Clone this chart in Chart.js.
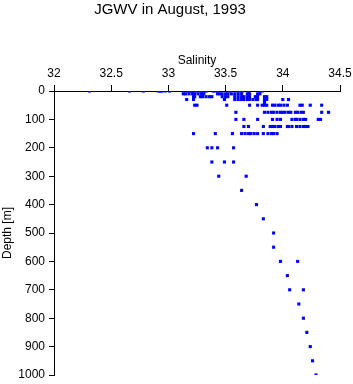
<!DOCTYPE html>
<html>
<head>
<meta charset="utf-8">
<script src="https://cdn.jsdelivr.net/npm/chart.js@4"></script>
<style>
  html, body { margin: 0; padding: 0; background: #fff; }
  #wrap { width: 353px; height: 384px; }
</style>
</head>
<body>
<div id="wrap"><canvas id="myChart"></canvas></div>
<script>
// CTD casts, JGWV August 1993 - salinity read at each sampled depth
const depths = [0, 10, 20, 30, 40, 50, 75, 100, 125, 150, 200, 250, 300, 350,
  400, 450, 500, 550, 600, 650, 700, 750, 800, 850, 900, 950, 1000];

const salinityByDepth = [
  [32.31, 32.66, 32.78, 32.91, 32.93, 32.94, 32.97, 33.01, 33.13, 33.17, 33.19, 33.21, 33.22,
    33.25, 33.28, 33.29, 33.31, 33.33, 33.39, 33.41, 33.43, 33.54, 33.60, 33.63, 33.65, 33.70, 33.80, 33.82],
  [33.13, 33.15, 33.18, 33.21, 33.23, 33.26, 33.29, 33.31, 33.43, 33.45, 33.47, 33.50, 33.52,
    33.55, 33.58, 33.61, 33.64, 33.69, 33.71, 33.78, 33.80],
  [33.22, 33.23, 33.28, 33.30, 33.33, 33.36, 33.38, 33.47, 33.50, 33.52, 33.58, 33.61, 33.64,
    33.66, 33.69, 33.71, 33.76, 33.78, 33.84, 33.86],
  [33.16, 33.22, 33.49, 33.58, 33.61, 33.64, 33.66, 33.69, 33.71, 33.74, 33.77, 33.78, 33.84,
    33.86, 34.00, 34.05],
  [33.84],
  [33.23, 33.25, 33.51, 33.71, 33.78, 33.82, 33.84, 33.86, 33.91, 33.93, 33.96, 33.98, 34.01,
    34.04, 34.15, 34.17, 34.24, 34.34],
  [33.59, 33.84, 33.87, 33.90, 33.92, 33.95, 33.98, 34.00, 34.02, 34.05, 34.07, 34.11, 34.13,
    34.16, 34.18, 34.34, 34.40],
  [33.59, 33.66, 33.78, 33.91, 33.95, 33.98, 34.08, 34.11, 34.12, 34.15, 34.18, 34.20, 34.31, 34.33],
  [33.66, 33.70, 33.83, 33.89, 33.91, 33.93, 33.96, 33.98, 34.04, 34.05, 34.08, 34.12, 34.15,
    34.18, 34.20, 34.22],
  [33.22, 33.41, 33.56, 33.64, 33.67, 33.70, 33.72, 33.75, 33.78, 33.83, 33.87, 33.90, 33.92, 33.95],
  [33.34, 33.38, 33.43, 33.57],
  [33.38, 33.49, 33.57],
  [33.44, 33.68],
  [33.64],
  [33.77],
  [33.83],
  [33.92],
  [33.92],
  [33.98, 34.13],
  [34.04],
  [34.06, 34.18],
  [34.14],
  [34.18],
  [34.21],
  [34.24],
  [34.26],
  [34.29]
];

const salinityTicks = [32, 32.5, 33, 33.5, 34, 34.5];
const depthTicks = [0, 100, 200, 300, 400, 500, 600, 700, 800, 900, 1000];

function makeChart() {
  const ctx = document.getElementById("myChart").getContext("2d");

  let points = [];
  depths.forEach((d, i) => {
    salinityByDepth[i].forEach((s) => {
      points.push({ x: s, y: d });
    });
  });

  Chart.defaults.font.family = "'Liberation Sans', Arial, sans-serif";
  Chart.defaults.color = "#000";

  // drop the label overhang padding so layout.padding sets the plot edges
  const noOverhang = (scale) => {
    scale.paddingLeft = 0;
    scale.paddingRight = 0;
    scale.paddingTop = 0;
    scale.paddingBottom = 0;
  };

  const myChart = new Chart(ctx, {
    type: "scatter",
    data: {
      datasets: [
        {
          label: "Salinity",
          data: points,
          pointStyle: "rect",
          pointRadius: 2.2,
          pointHoverRadius: 2.2,
          borderWidth: 0,
          backgroundColor: "#0000ff",
          borderColor: "#0000ff",
        },
      ],
    },
    options: {
      responsive: true,
      maintainAspectRatio: false,
      animation: false,
      layout: {
        padding: { left: 0, right: 13, top: 0, bottom: 9 },
      },
      plugins: {
        legend: { display: false },
        tooltip: { enabled: false },
        title: {
          display: true,
          text: "JGWV in August, 1993",
          font: { size: 15, weight: "normal" },
          color: "#000",
          padding: { top: 1, bottom: 34 },
        },
      },
      scales: {
        x: {
          type: "linear",
          position: "top",
          min: 32,
          max: 34.5,
          afterBuildTicks: (scale) => {
            scale.ticks = salinityTicks.map((v) => ({ value: v }));
          },
          afterFit: (scale) => {
            scale.height = 38;
            noOverhang(scale);
          },
          ticks: {
            font: { size: 12 },
            padding: 4,
            maxRotation: 0,
            callback: (v) => String(v),
          },
          grid: {
            drawOnChartArea: false,
            drawTicks: true,
            tickLength: 6,
            color: "#000",
          },
          border: { display: true, color: "#000", width: 1 },
          title: {
            display: true,
            text: "Salinity",
            font: { size: 12 },
            padding: 0,
          },
        },
        y: {
          type: "linear",
          reverse: true,
          min: 0,
          max: 1000,
          afterBuildTicks: (scale) => {
            scale.ticks = depthTicks.map((v) => ({ value: v }));
          },
          afterFit: (scale) => {
            scale.width = 54;
            noOverhang(scale);
          },
          ticks: {
            font: { size: 12 },
            padding: 4,
            callback: (v) => String(v),
          },
          grid: {
            drawOnChartArea: false,
            drawTicks: true,
            tickLength: 5,
            color: "#000",
          },
          border: { display: true, color: "#000", width: 1 },
          title: {
            display: true,
            text: "Depth [m]",
            font: { size: 12 },
            padding: 0,
          },
        },
      },
    },
  });
}

makeChart();
</script>
</body>
</html>
